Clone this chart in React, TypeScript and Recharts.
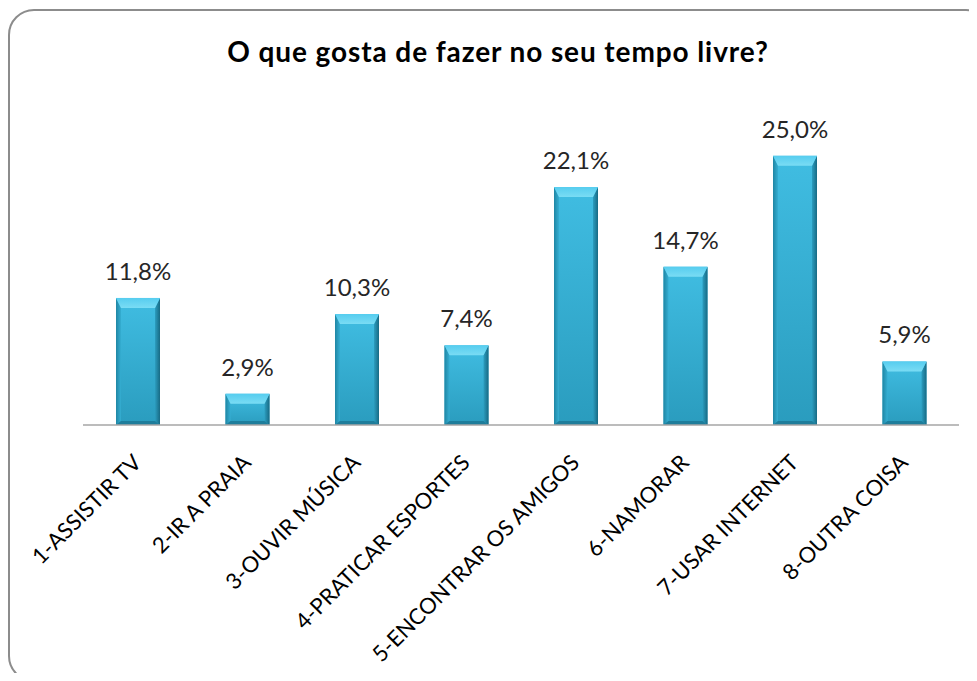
import React from "react";
import { BarChart, Bar, XAxis, YAxis, LabelList } from "recharts";

const categories = [
  "1-ASSISTIR TV",
  "2-IR A PRAIA",
  "3-OUVIR MÚSICA",
  "4-PRATICAR ESPORTES",
  "5-ENCONTRAR OS AMIGOS",
  "6-NAMORAR",
  "7-USAR INTERNET",
  "8-OUTRA COISA",
];
const percentages = [11.8, 2.9, 10.3, 7.4, 22.1, 14.7, 25.0, 5.9];

const data = categories.map((name, i) => ({ name, value: percentages[i] }));

const FONT = "Lato, 'Open Sans', sans-serif";

const fmt = (v: number) => `${v.toFixed(1).replace(".", ",")}%`;

// bevelled bar, like the office "soft edge" style
function BevelBar(props: any) {
  const { x, y, width: w, height: h } = props;
  if (!h || h <= 0) return null;
  const t = Math.min(10, h / 2);
  const s = 5;
  const b = Math.min(4, h / 4);
  return (
    <g>
      <rect x={x} y={y} width={w} height={h} fill="url(#barBody)" />
      <polygon
        points={`${x},${y} ${x + s},${y + t} ${x + s},${y + h - b} ${x},${y + h}`}
        fill="url(#barLeft)"
      />
      <polygon
        points={`${x + w},${y} ${x + w - s},${y + t} ${x + w - s},${y + h - b} ${x + w},${y + h}`}
        fill="url(#barRight)"
      />
      <polygon
        points={`${x},${y + h} ${x + s},${y + h - b} ${x + w - s},${y + h - b} ${x + w},${y + h}`}
        fill="#1b7692"
        opacity={0.8}
      />
      <polygon
        points={`${x},${y} ${x + w},${y} ${x + w - s},${y + t} ${x + s},${y + t}`}
        fill="url(#barTop)"
      />
    </g>
  );
}

function AngledTick(props: any) {
  const { x, y, payload } = props;
  const ax = x + 5;
  const ay = y + 31;
  return (
    <text
      x={ax}
      y={ay}
      transform={`rotate(-45 ${ax} ${ay})`}
      textAnchor="end"
      fontFamily={FONT}
      fontSize={22}
      fill="#000"
    >
      {payload.value}
    </text>
  );
}

export default function App() {
  return (
    <div style={{ position: "relative", width: 977, height: 681, margin: -8, overflow: "hidden", background: "#fff" }}>
      <div
        style={{
          position: "absolute",
          left: 8,
          top: 9,
          width: 984,
          height: 673,
          border: "2px solid #8c8c8c",
          borderRadius: 26,
          boxSizing: "border-box",
        }}
      />
      <svg width={977} height={681} style={{ position: "absolute", left: 0, top: 0 }}>
        <text
          x={498}
          y={62}
          textAnchor="middle"
          fontFamily={FONT}
          fontWeight={700}
          fontSize={28}
          letterSpacing={0.9}
          fill="#000"
        >
          O que gosta de fazer no seu tempo livre?
        </text>
      </svg>
      <div style={{ position: "absolute", left: 0, top: 0 }}>
        <BarChart
          width={977}
          height={681}
          data={data}
          margin={{ top: 102, right: 18, bottom: 56, left: 83 }}
          barCategoryGap={0}
        >
          <defs>
            <linearGradient id="barBody" x1="0" y1="0" x2="0" y2="1">
              <stop offset="0%" stopColor="#40bde2" />
              <stop offset="100%" stopColor="#2a9cbe" />
            </linearGradient>
            <linearGradient id="barLeft" x1="0" y1="0" x2="1" y2="0">
              <stop offset="0%" stopColor="#1f86a4" />
              <stop offset="100%" stopColor="#35aed2" />
            </linearGradient>
            <linearGradient id="barRight" x1="0" y1="0" x2="1" y2="0">
              <stop offset="0%" stopColor="#2c9dbf" />
              <stop offset="100%" stopColor="#176a84" />
            </linearGradient>
            <linearGradient id="barTop" x1="0" y1="0" x2="0" y2="1">
              <stop offset="0%" stopColor="#56cdef" />
              <stop offset="100%" stopColor="#7adcf4" />
            </linearGradient>
          </defs>
          <XAxis
            dataKey="name"
            interval={0}
            tickLine={false}
            axisLine={{ stroke: "#a6a6a6", strokeWidth: 1.5 }}
            tick={<AngledTick />}
            height={200}
          />
          <YAxis hide domain={[0, 30]} width={0} />
          <Bar dataKey="value" barSize={44} shape={<BevelBar />} isAnimationActive={false}>
            <LabelList
              dataKey="value"
              position="top"
              offset={18}
              formatter={(v: any) => fmt(Number(v))}
              style={{ fontFamily: FONT, fontSize: 24, fill: "#262626" }}
            />
          </Bar>
        </BarChart>
      </div>
    </div>
  );
}
